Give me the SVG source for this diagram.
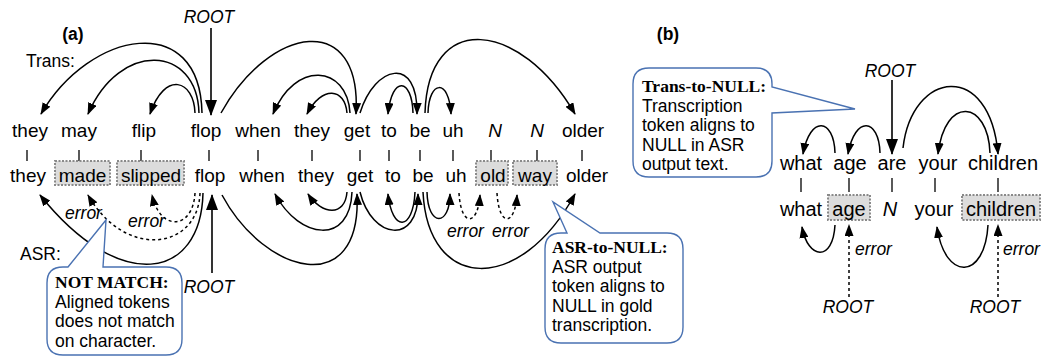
<svg xmlns="http://www.w3.org/2000/svg" width="1042" height="358" viewBox="0 0 1042 358">
<style>
text{font-family:"Liberation Sans",Arial,sans-serif;fill:#000}
.w{font-size:19px;text-anchor:middle}
.wb{font-size:20px;text-anchor:middle}
.i{font-style:italic}
.lbl{font-size:17.5px}
.root{font-size:17.5px;font-style:italic;text-anchor:middle}
.err{font-size:17.5px;font-style:italic}
.hd{font-size:17.5px;font-weight:bold;text-anchor:middle}
.cs{font-size:17.5px;font-family:"Liberation Serif","Times New Roman",serif;font-weight:bold}
.ct{font-size:17.5px}
.tick{stroke:#000;stroke-width:1.3}
.box{fill:#dcdcdc;stroke:#8a8a8a;stroke-width:2;stroke-dasharray:2 1.5}
.arc{fill:none;stroke:#000;stroke-width:1.5;marker-end:url(#ah)}
.dash{stroke-dasharray:3 3}
.rootln{fill:none;stroke:#000;stroke-width:1.6;marker-end:url(#ahR)}
.callout{fill:#fff;stroke:#4a72b2;stroke-width:1.4}
</style>
<defs>
<marker id="ah" markerWidth="12" markerHeight="9" refX="11" refY="4.5" orient="auto" markerUnits="userSpaceOnUse"><path d="M0,0 L12,4.5 L0,9 z" fill="#000"/></marker>
<marker id="ahR" markerWidth="16" markerHeight="12" refX="15" refY="6" orient="auto" markerUnits="userSpaceOnUse"><path d="M0,0 L16,6 L0,12 z" fill="#000"/></marker>
</defs>
<rect width="1042" height="358" fill="#fff"/>

<g id="labels">
<text class="hd" x="73" y="40">(a)</text>
<text class="hd" x="668" y="40">(b)</text>
<text class="lbl" x="26" y="67">Trans:</text>
<text class="lbl" x="20" y="260">ASR:</text>
<text class="root" x="209" y="23">ROOT</text>
<text class="root" x="209" y="293">ROOT</text>
<text class="root" x="890" y="77">ROOT</text>
<text class="root" x="848" y="313">ROOT</text>
<text class="root" x="995" y="313">ROOT</text>
<text class="err" x="65" y="219">error</text>
<text class="err" x="128" y="227">error</text>
<text class="err" x="447" y="237">error</text>
<text class="err" x="492" y="237">error</text>
<text class="err" x="855" y="255">error</text>
<text class="err" x="1003" y="255">error</text>
</g>

<g id="a-they1"><text class="w" x="30" y="137">they</text><line class="tick" x1="27" y1="150" x2="27" y2="161"/><text class="w" x="28" y="182">they</text></g>
<g id="a-may"><text class="w" x="79" y="137">may</text><line class="tick" x1="79" y1="150" x2="79" y2="161"/><rect class="box" x="55" y="161" width="55" height="24"/><text class="w" x="82.5" y="182">made</text></g>
<g id="a-flip"><text class="w" x="144" y="137">flip</text><line class="tick" x1="141" y1="150" x2="141" y2="161"/><rect class="box" x="117" y="161" width="67" height="24"/><text class="w" x="151" y="182">slipped</text></g>
<g id="a-flop"><text class="w" x="206" y="137">flop</text><line class="tick" x1="209" y1="150" x2="209" y2="161"/><text class="w" x="210" y="182">flop</text></g>
<g id="a-when"><text class="w" x="258" y="137">when</text><line class="tick" x1="258" y1="150" x2="258" y2="161"/><text class="w" x="262" y="182">when</text></g>
<g id="a-they2"><text class="w" x="312" y="137">they</text><line class="tick" x1="312" y1="150" x2="312" y2="161"/><text class="w" x="316" y="182">they</text></g>
<g id="a-get"><text class="w" x="357" y="137">get</text><line class="tick" x1="360" y1="150" x2="360" y2="161"/><text class="w" x="360" y="182">get</text></g>
<g id="a-to"><text class="w" x="389" y="137">to</text><line class="tick" x1="389" y1="150" x2="389" y2="161"/><text class="w" x="393" y="182">to</text></g>
<g id="a-be"><text class="w" x="420" y="137">be</text><line class="tick" x1="420" y1="150" x2="420" y2="161"/><text class="w" x="423" y="182">be</text></g>
<g id="a-uh"><text class="w" x="453" y="137">uh</text><line class="tick" x1="453" y1="150" x2="453" y2="161"/><text class="w" x="456" y="182">uh</text></g>
<g id="a-old"><text class="w i" x="495" y="137">N</text><line class="tick" x1="491" y1="150" x2="491" y2="161"/><rect class="box" x="476" y="161" width="32" height="24"/><text class="w" x="493" y="182">old</text></g>
<g id="a-way"><text class="w i" x="537" y="137">N</text><line class="tick" x1="537" y1="150" x2="537" y2="161"/><rect class="box" x="513" y="161" width="44" height="24"/><text class="w" x="535" y="182">way</text></g>
<g id="a-older"><text class="w" x="583" y="137">older</text><line class="tick" x1="582" y1="150" x2="582" y2="161"/><text class="w" x="587" y="182">older</text></g>

<g id="b-what"><text class="wb" x="801" y="170">what</text><line class="tick" x1="801" y1="178" x2="801" y2="192"/><text class="wb" x="801" y="216">what</text></g>
<g id="b-age"><text class="wb" x="850" y="170">age</text><line class="tick" x1="849" y1="178" x2="849" y2="192"/><rect class="box" x="828" y="195" width="42" height="25"/><text class="wb" x="849" y="216">age</text></g>
<g id="b-are"><text class="wb" x="892" y="170">are</text><line class="tick" x1="892" y1="178" x2="892" y2="192"/><text class="wb i" x="890" y="216">N</text></g>
<g id="b-your"><text class="wb" x="938" y="170">your</text><line class="tick" x1="935" y1="178" x2="935" y2="192"/><text class="wb" x="934" y="216">your</text></g>
<g id="b-children"><text class="wb" x="1003" y="170">children</text><line class="tick" x1="998" y1="178" x2="998" y2="192"/><rect class="box" x="962" y="195" width="78" height="25"/><text class="wb" x="1001" y="216">children</text></g>

<g id="connectors">
<path class="rootln" d="M211,28 L211,115"/>
<path class="arc" d="M202,113 C200,10 90,30 41,114"/>
<path class="arc" d="M199,113 C197,45 120,40 88,114"/>
<path class="arc" d="M195,113 C194,80 165,70 150,114"/>
<path class="arc" d="M221,113 C270,25 362,10 356,114"/>
<path class="arc" d="M350,113 C347,65 295,60 273,114"/>
<path class="arc" d="M347,113 C345,88 322,85 307,114"/>
<path class="arc" d="M360,113 C375,65 418,55 417,114"/>
<path class="arc" d="M413,113 C412,78 392,75 388,114"/>
<path class="arc" d="M428,113 C429,80 449,78 451,114"/>
<path class="arc" d="M425,113 C428,10 520,20 575,114"/>

<path class="rootln" d="M212,273 L212,195"/>
<path class="arc" d="M203,193 C201,280 120,295 40,195"/>
<path class="arc dash" d="M200,193 C198,250 125,260 88,195"/>
<path class="arc dash" d="M195,193 C193,230 160,232 152,195"/>
<path class="arc" d="M222,195 C265,275 362,300 357,194"/>
<path class="arc" d="M352,192 C350,245 300,240 275,194"/>
<path class="arc" d="M347,192 C345,217 322,215 308,194"/>
<path class="arc" d="M360,192 C372,240 418,245 418,194"/>
<path class="arc" d="M415,192 C413,232 392,232 388,194"/>
<path class="arc" d="M427,192 C428,228 450,226 450,194"/>
<path class="arc" d="M423,192 C428,292 520,295 575,194"/>
<path class="arc dash" d="M459,193 C461,228 478,226 480,195"/>
<path class="arc dash" d="M497,193 C499,228 515,226 517,195"/>

<path class="rootln" d="M892,80 L892,154"/>
<path class="arc" d="M835,153 C834,118 810,115 803,154"/>
<path class="arc" d="M880,153 C879,118 855,115 848,154"/>
<path class="arc" d="M903,148 C912,70 990,60 998,154"/>
<path class="arc" d="M990,153 C988,100 945,95 938,154"/>
<path class="arc" d="M835,225 C833,262 808,260 802,227"/>
<path class="arc" d="M988,225 C985,280 945,282 937,227"/>
<path class="arc dash" d="M849,297 L849,225"/>
<path class="arc dash" d="M998,297 L998,225"/>
</g>

<g id="callout-notmatch">
<path class="callout" d="M63,267 L68,267 L106,220 L103,267 L166,267 Q182,267 182,283 L182,339 Q182,355 166,355 L63,355 Q47,355 47,339 L47,283 Q47,267 63,267 Z"/>
<text class="cs" x="55" y="288">NOT MATCH:</text>
<text class="ct" x="55" y="307.5">Aligned tokens</text>
<text class="ct" x="55" y="327">does not match</text>
<text class="ct" x="55" y="346.5">on character.</text>
</g>
<g id="callout-asrnull">
<path class="callout" d="M561,233 L567,233 L553,202 L600,233 L667,233 Q683,233 683,249 L683,327 Q683,343 667,343 L561,343 Q545,343 545,327 L545,249 Q545,233 561,233 Z"/>
<text class="cs" x="552" y="253">ASR-to-NULL:</text>
<text class="ct" x="552" y="272.5">ASR output</text>
<text class="ct" x="552" y="292">token aligns to</text>
<text class="ct" x="552" y="311.5">NULL in gold</text>
<text class="ct" x="552" y="331">transcription.</text>
</g>
<g id="callout-transnull">
<path class="callout" d="M649,68 L756,68 Q772,68 772,84 L772,87 L855,109 L772,113 L772,161 Q772,177 756,177 L649,177 Q633,177 633,161 L633,84 Q633,68 649,68 Z"/>
<text class="cs" x="642" y="92">Trans-to-NULL:</text>
<text class="ct" x="642" y="111.5">Transcription</text>
<text class="ct" x="642" y="131">token aligns to</text>
<text class="ct" x="642" y="150.5">NULL in ASR</text>
<text class="ct" x="642" y="170">output text.</text>
</g>
</svg>
